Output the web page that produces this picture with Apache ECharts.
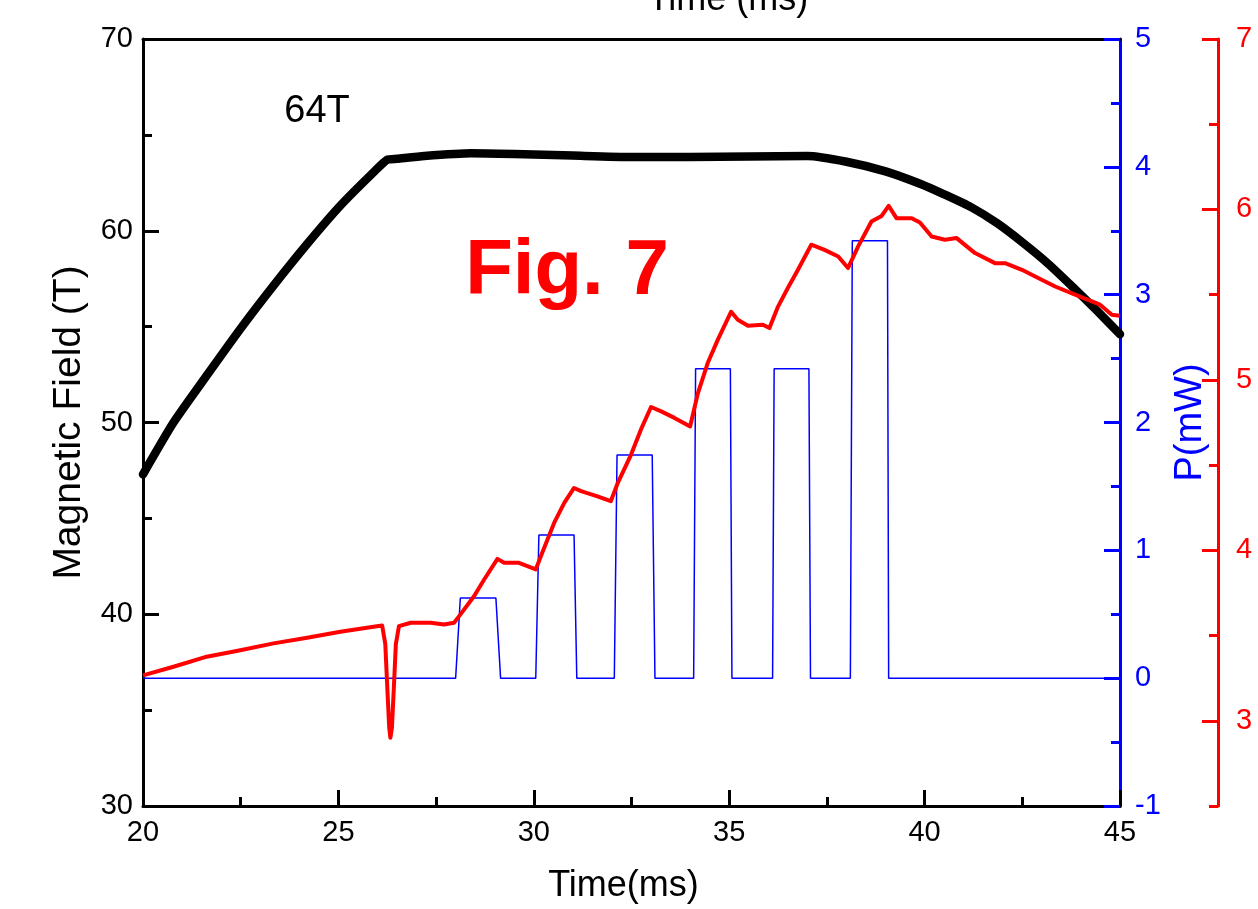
<!DOCTYPE html>
<html>
<head>
<meta charset="utf-8">
<script src="https://cdn.jsdelivr.net/npm/echarts@6/dist/echarts.min.js"></script>
<style>
    html, body {
        margin: 0;
        padding: 0;
        background: #fff;
    }
    #chart {
        width: 1258px;
        height: 909px;
    }
</style>
</head>
<body>
<div id="chart"></div>
<script>
    // magnetic field (T) vs time (ms)
    var fieldT = [20, 20.78, 21.63, 22.49, 23.34, 24.2, 25.05, 25.9, 26.25, 26.5, 27.2, 28.4, 29.5, 31, 32.5, 34, 35.5, 37, 38, 39, 39.9, 40.5, 41.2, 41.85, 42.5, 43.15, 43.8, 44.4, 45];
    var fieldB = [47.3, 50.0, 52.45, 54.88, 57.14, 59.31, 61.31, 63.05, 63.7, 63.75, 63.9, 64.04, 64.0, 63.92, 63.85, 63.85, 63.87, 63.9, 63.6, 63.1, 62.44, 61.9, 61.22, 60.4, 59.4, 58.3, 57.05, 55.85, 54.6];

    // red trace (right red axis)
    var redT = [20, 20.78, 21.63, 22.49, 23.34, 24.2, 25.05, 25.9, 26.12, 26.2, 26.25, 26.3, 26.33, 26.37, 26.42, 26.47, 26.55, 26.85, 27.36, 27.7, 27.96,
        28.09, 28.47, 28.73, 29.07, 29.24, 29.62, 30.05, 30.18, 30.52, 30.78, 31.03, 31.21, 31.63, 31.97, 32.15, 32.49, 32.74, 33.0, 33.26, 33.6, 34.0,
        34.2, 34.45, 34.71, 35.05, 35.22, 35.48, 35.86, 36.03, 36.25, 36.5, 36.76, 37.1, 37.44, 37.79, 38.04, 38.3, 38.64, 38.9, 39.08, 39.28, 39.67,
        39.88, 40.18, 40.52, 40.82, 41.29, 41.8, 42.06, 42.49, 42.83, 43.34, 43.85, 44.49, 44.79, 45.0];
    var redV = [3.266, 3.317, 3.376, 3.414, 3.454, 3.487, 3.522, 3.552, 3.559, 3.45, 3.2, 2.96, 2.90, 2.96, 3.2, 3.45, 3.555, 3.575, 3.575, 3.565, 3.575,
        3.614, 3.731, 3.829, 3.95, 3.927, 3.927, 3.888, 3.965, 4.161, 4.278, 4.366, 4.347, 4.317, 4.288, 4.396, 4.562, 4.708, 4.841, 4.815, 4.777, 4.727,
        4.923, 5.099, 5.236, 5.40, 5.353, 5.318, 5.324, 5.304, 5.43, 5.539, 5.646, 5.793, 5.763, 5.724, 5.656, 5.783, 5.929, 5.962, 6.021, 5.949, 5.949,
        5.923, 5.841, 5.822, 5.832, 5.744, 5.685, 5.685, 5.646, 5.607, 5.548, 5.5, 5.441, 5.382, 5.376];

    // pulses P(mW)
    var powerT = [20, 28.0, 28.12, 29.03, 29.15, 30.05, 30.13, 31.03, 31.1, 32.06, 32.13, 33.03, 33.1, 34.09, 34.14, 35.03, 35.07, 36.11, 36.15, 37.04, 37.08, 38.1, 38.15, 39.05, 39.08, 45];
    var powerP = [0, 0, 0.627, 0.627, 0, 0, 1.119, 1.119, 0, 0, 1.746, 1.746, 0, 0, 2.42, 2.42, 0, 0, 2.42, 2.42, 0, 0, 3.422, 3.422, 0, 0];

    // red axis ticks
    var redTicks = [3, 4, 5, 6, 7];
    var redHalfTicks = [2.5, 3.5, 4.5, 5.5, 6.5];

    function pairs(xs, ys) {
        var out = [];
        for (var i = 0; i < xs.length; i++) {
            out.push([xs[i], ys[i]]);
        }
        return out;
    }

    var font = 'Liberation Sans, Arial, sans-serif';
    var myChart = echarts.init(document.getElementById('chart'));

    var option = {
        animation: false,
        backgroundColor: '#fff',
        grid: {
            left: 143,
            right: 138,
            top: 39,
            bottom: 102
        },
        xAxis: [{
            type: 'value',
            min: 20,
            max: 45,
            interval: 5,
            name: 'Time(ms)',
            nameLocation: 'middle',
            nameGap: 62,
            nameTextStyle: { fontSize: 36, color: '#000', fontFamily: font, padding: [0, 16, 0, 0] },
            axisLine: { onZero: false, lineStyle: { color: '#000', width: 3 } },
            axisTick: { inside: true, length: 16, lineStyle: { width: 3, color: '#000' } },
            minorTick: { show: true, splitNumber: 2, length: 9, lineStyle: { width: 3, color: '#000' } },
            axisLabel: { fontSize: 29, color: '#000', fontFamily: font, margin: 12 },
            splitLine: { show: false }
        }, {
            type: 'value',
            position: 'top',
            min: 20,
            max: 45,
            interval: 5,
            axisLine: { onZero: false, lineStyle: { color: '#000', width: 3 } },
            axisTick: { show: false },
            axisLabel: { show: false },
            splitLine: { show: false }
        }],
        yAxis: [{
            type: 'value',
            min: 30,
            max: 70,
            interval: 10,
            name: 'Magnetic Field (T)',
            nameLocation: 'middle',
            nameGap: 54,
            nameTextStyle: { fontSize: 39, color: '#000', fontFamily: font },
            axisLine: { show: true, onZero: false, lineStyle: { color: '#000', width: 3 } },
            axisTick: { show: true, inside: true, length: 16, lineStyle: { width: 3, color: '#000' } },
            minorTick: { show: true, splitNumber: 2, length: 9, lineStyle: { width: 3, color: '#000' } },
            axisLabel: { fontSize: 29, color: '#000', fontFamily: font, margin: 10 },
            splitLine: { show: false }
        }, {
            type: 'value',
            position: 'right',
            min: -1,
            max: 5,
            interval: 1,
            name: 'P(mW)',
            nameLocation: 'middle',
            nameGap: 42,
            nameTextStyle: { fontSize: 38, color: '#0000ff', fontFamily: font },
            axisLine: { show: true, onZero: false, lineStyle: { color: '#0000ff', width: 3 } },
            axisTick: { show: true, inside: true, length: 16, lineStyle: { width: 3, color: '#0000ff' } },
            minorTick: { show: true, splitNumber: 2, length: 9, lineStyle: { width: 3, color: '#0000ff' } },
            axisLabel: { fontSize: 29, color: '#0000ff', fontFamily: font, margin: 15 },
            splitLine: { show: false }
        }, {
            type: 'value',
            position: 'right',
            offset: 98,
            min: 2.5,
            max: 7,
            axisLine: { show: true, onZero: false, lineStyle: { color: '#ff0000', width: 3 } },
            axisTick: { show: true, inside: true, length: 16, customValues: redTicks, lineStyle: { width: 3, color: '#ff0000' } },
            axisLabel: { fontSize: 29, color: '#ff0000', fontFamily: font, margin: 18, customValues: redTicks },
            splitLine: { show: false }
        }, {
            // half ticks of the red axis
            type: 'value',
            position: 'right',
            offset: 98,
            min: 2.5,
            max: 7,
            axisLine: { show: false },
            axisTick: { show: true, inside: true, length: 9, customValues: redHalfTicks, lineStyle: { width: 3, color: '#ff0000' } },
            axisLabel: { show: false },
            splitLine: { show: false }
        }],
        graphic: [{
            // clipped title of the upper panel
            type: 'text',
            x: 728,
            y: 18,
            style: {
                text: 'Time (ms)',
                fontSize: 36,
                fontFamily: font,
                fill: '#000',
                align: 'center',
                verticalAlign: 'bottom'
            }
        }, {
            type: 'text',
            x: 317,
            y: 112,
            style: {
                text: '64T',
                fontSize: 38,
                fontFamily: font,
                fill: '#000',
                align: 'center',
                verticalAlign: 'middle'
            }
        }, {
            type: 'text',
            x: 567,
            y: 272,
            style: {
                text: 'Fig. 7',
                fontSize: 78,
                fontWeight: 'bold',
                fontFamily: font,
                fill: '#ff0000',
                align: 'center',
                verticalAlign: 'middle'
            }
        }],
        series: [{
            name: 'P',
            type: 'line',
            xAxisIndex: 0,
            yAxisIndex: 1,
            data: pairs(powerT, powerP),
            showSymbol: false,
            symbol: 'none',
            lineStyle: { color: '#0000ff', width: 1.5 },
            z: 2
        }, {
            name: 'B',
            type: 'line',
            xAxisIndex: 0,
            yAxisIndex: 0,
            data: pairs(fieldT, fieldB),
            showSymbol: false,
            symbol: 'none',
            smooth: 0.2,
            lineStyle: { color: '#000', width: 8.5, cap: 'round', join: 'round' },
            z: 3
        }, {
            name: 'red',
            type: 'line',
            xAxisIndex: 0,
            yAxisIndex: 2,
            data: pairs(redT, redV),
            showSymbol: false,
            symbol: 'none',
            lineStyle: { color: '#ff0000', width: 4, join: 'round' },
            z: 4
        }]
    };
    myChart.setOption(option);
</script>
</body>
</html>
